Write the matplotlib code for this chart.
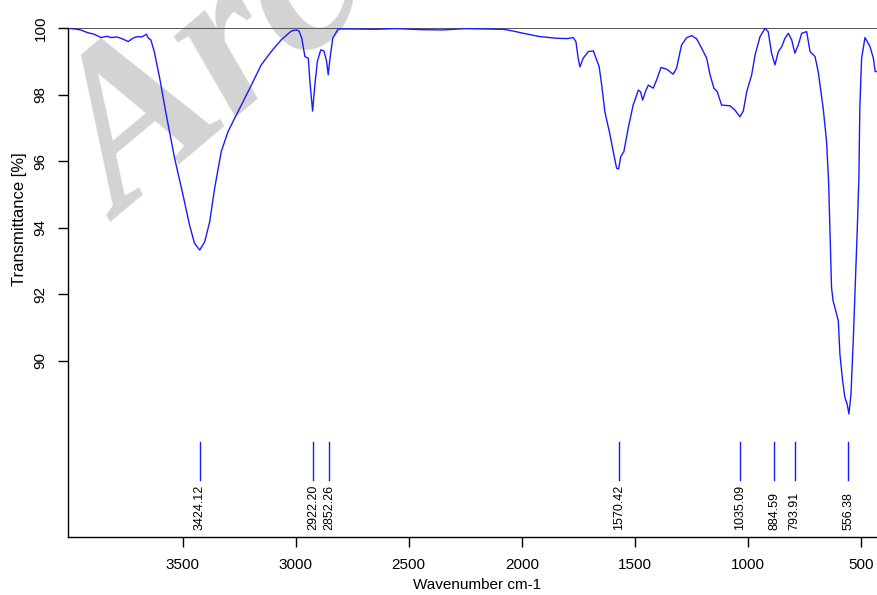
import matplotlib.pyplot as plt

# FTIR spectrum (wavenumber in cm-1, transmittance in %)
wavenumber = [
    4005, 3975, 3950, 3920, 3890, 3860, 3835, 3815, 3790, 3765,
    3740, 3720, 3700, 3680, 3660, 3650, 3640, 3625, 3601, 3572,
    3535, 3498, 3469, 3447, 3424, 3402, 3380, 3358, 3329, 3299,
    3270, 3240, 3196, 3152, 3108, 3064, 3019, 2997, 2985, 2973,
    2959, 2944, 2937, 2925, 2915, 2904, 2889, 2875, 2863, 2856,
    2848, 2836, 2812, 2750, 2650, 2550, 2450, 2350, 2250, 2150,
    2082, 2040, 1994, 1920, 1846, 1800, 1773, 1761, 1751, 1743,
    1729, 1706, 1684, 1672, 1658, 1647, 1633, 1610, 1596, 1581,
    1572, 1563, 1549, 1530, 1508, 1485, 1475, 1466, 1451, 1441,
    1419, 1404, 1385, 1360, 1331, 1316, 1294, 1271, 1249, 1227,
    1205, 1183, 1168, 1151, 1136, 1117, 1080, 1058, 1036, 1021,
    1006, 984, 969, 947, 925, 911, 896, 881, 866, 851,
    837, 822, 807, 793, 778, 763, 741, 726, 704, 690,
    668, 653, 644, 638, 631, 624, 616, 601, 594, 582,
    572, 562, 554, 545, 535, 523, 517, 510, 506, 498,
    483, 461, 446, 438, 430,
]
transmittance = [
    100.0, 99.98, 99.95, 99.87, 99.82, 99.72, 99.76, 99.72, 99.74, 99.68,
    99.6, 99.7, 99.75, 99.74, 99.82, 99.7, 99.65, 99.3, 98.5, 97.4,
    96.09, 94.99, 94.08, 93.53, 93.33, 93.58, 94.18, 95.19, 96.29, 96.89,
    97.29, 97.69, 98.29, 98.9, 99.3, 99.65, 99.92, 99.95, 99.92, 99.7,
    99.15, 99.1, 98.4, 97.51, 98.3, 99.0, 99.35, 99.32, 99.0, 98.6,
    99.1, 99.7, 99.98, 99.98, 99.97, 99.99, 99.96, 99.95, 99.99, 99.98,
    99.97, 99.92, 99.85, 99.75, 99.7, 99.69, 99.72, 99.6, 99.1, 98.84,
    99.1, 99.3, 99.32, 99.1, 98.84, 98.29, 97.49, 96.79, 96.29, 95.79,
    95.77, 96.14, 96.29, 96.99, 97.69, 98.14, 98.09, 97.84, 98.14, 98.29,
    98.2, 98.45, 98.82, 98.77, 98.62, 98.8, 99.5, 99.72, 99.78, 99.68,
    99.4, 99.1, 98.6, 98.2, 98.09, 97.69, 97.67, 97.54, 97.34, 97.51,
    98.09, 98.6, 99.2, 99.75, 100.0, 99.9, 99.25, 98.9, 99.3, 99.45,
    99.7, 99.85, 99.65, 99.25, 99.5, 99.85, 99.9, 99.3, 99.15, 98.7,
    97.6, 96.6, 95.4, 93.9, 92.2, 91.8, 91.6, 91.2, 90.2, 89.4,
    88.9, 88.7, 88.4, 89.0, 90.6, 92.9, 94.0, 95.5, 97.6, 99.1,
    99.72, 99.45, 99.1, 98.7, 98.7,
]

# picked peak positions
peaks = [3424.12, 2922.20, 2852.26, 1570.42, 1035.09, 884.59, 793.91, 556.38]
peak_labels = ['3424.12', '2922.20', '2852.26', '1570.42', '1035.09', '884.59', '793.91', '556.38']

x_ticks = [3500, 3000, 2500, 2000, 1500, 1000, 500]
y_ticks = [90, 92, 94, 96, 98, 100]

plt.rcParams['font.family'] = ['Liberation Sans', 'DejaVu Sans']

fig = plt.figure(figsize=(8.77, 5.95), dpi=100)
ax = fig.add_axes([68.3 / 877, 1 - 537.3 / 595, (877 - 68.3) / 877, 509 / 595])

# watermark behind the spectrum
ax.text(122 / 877, 1 - 222 / 595, 'Archive', transform=fig.transFigure,
        fontsize=160, family='Liberation Serif', style='italic', weight='bold',
        color='#d3d3d3', rotation=40, rotation_mode='anchor',
        ha='left', va='baseline', zorder=0, clip_on=False)

ax.axhline(100, color='#555555', lw=1.4, zorder=1)
ax.plot(wavenumber, transmittance, color='#1a1aff', lw=1.0, zorder=2)

# peak markers with rotated labels
for wn, lab in zip(peaks, peak_labels):
    ax.plot([wn, wn], [86.4, 87.55], color='#1a1aff', lw=1.0)
    ax.text(wn, 84.91, lab, rotation=90, ha='center', va='bottom', fontsize=9)

ax.set_xlim(4005, 430)
ax.set_ylim(84.69, 100)
ax.set_xticks(x_ticks)
ax.set_yticks(y_ticks)

for side in ['top', 'right']:
    ax.spines[side].set_visible(False)
for side in ['left', 'bottom']:
    ax.spines[side].set_linewidth(1.0)

ax.tick_params(axis='both', length=7, width=1.0, labelsize=11, pad=8)
ax.tick_params(axis='y', labelrotation=90)
for lbl in ax.get_yticklabels():
    lbl.set_va('center')

ax.set_xlabel('Wavenumber cm-1', fontsize=11)
ax.set_ylabel('Transmittance [%]', fontsize=12)
ax.xaxis.set_label_coords(0.505, -0.08)
ax.yaxis.set_label_coords(-0.051, 0.625)

fig.savefig('out.png', dpi=100)
